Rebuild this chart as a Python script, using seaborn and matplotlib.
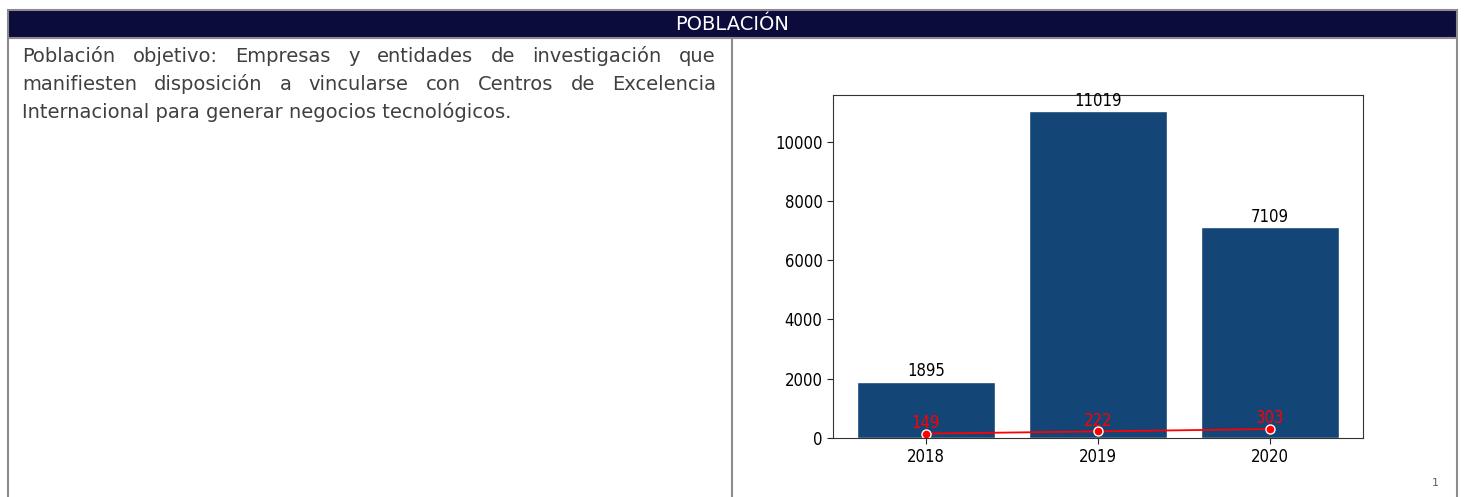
import numpy as np
import matplotlib
matplotlib.use("Agg")
import matplotlib.pyplot as plt
import seaborn as sns

# datos
anios = ["2018", "2019", "2020"]
poblacion = [1895, 11019, 7109]
atendidos = [149, 222, 303]
titulo = "POBLACIÓN"
descripcion = [
    "Población objetivo: Empresas y entidades de investigación que",
    "manifiesten disposición a vincularse con Centros de Excelencia",
    "Internacional para generar negocios tecnológicos.",
]

W, H = 1465, 497
sns.set_style("white")
plt.rcParams["font.family"] = ["DejaVu Sans"]
fig = plt.figure(figsize=(W / 100, H / 100), dpi=100)


def fx(x):
    return x / W


def fy(y):
    return 1 - y / H


borde = "#8c8c8c"
navy = "#0b0b3c"
fuente = ["DejaVu Sans"]

# encabezado de la tabla
fig.patches.append(plt.Rectangle((fx(8), fy(38)), fx(1449), 28 / H, transform=fig.transFigure,
                                 facecolor=navy, edgecolor=borde, lw=1.5))
fig.text(fx(732), fy(30), titulo, color="white", fontsize=14, ha="center", va="baseline", family=fuente)
for x in [8, 732, 1457]:
    fig.add_artist(plt.Line2D([fx(x), fx(x)], [fy(38), 0], transform=fig.transFigure, color=borde, lw=1.5))

# texto justificado
renderer = fig.canvas.get_renderer()
x0, x1 = 22, 716
for i, linea in enumerate(descripcion):
    y = fy(62 + 28 * i)
    palabras = linea.split()
    if i == len(descripcion) - 1:
        fig.text(fx(x0), y, linea, fontsize=14, color="#404040", va="baseline", family=fuente)
        continue
    textos = [fig.text(0, y, p, fontsize=14, color="#404040", va="baseline", family=fuente) for p in palabras]
    anchos = [t.get_window_extent(renderer).width for t in textos]
    hueco = (x1 - x0 - sum(anchos)) / (len(palabras) - 1)
    pos = x0
    for t, a in zip(textos, anchos):
        t.set_x(fx(pos))
        pos += a + hueco

fig.text(fx(1435), fy(483), "1", fontsize=8, color="#606060", ha="center", va="center")

# grafico
ax = fig.add_axes([fx(833), fy(438), 530 / W, 343 / H])
sns.barplot(x=anios, y=poblacion, color="#134576", saturation=1, width=0.8, ax=ax)
sns.lineplot(x=np.arange(len(anios)), y=atendidos, color="red", marker="o", markersize=6.5,
             markeredgecolor="white", markeredgewidth=1, lw=1.3, ax=ax)
ax.bar_label(ax.containers[0], fontsize=12, color="black", padding=1, fontstretch="condensed")
for i, v in enumerate(atendidos):
    ax.text(i, v + 60, str(v), color="red", fontsize=12, ha="center", va="bottom", fontstretch="condensed")
ax.set_xlabel("")
ax.set_ylabel("")
ax.set_yticks([0, 2000, 4000, 6000, 8000, 10000])
ax.tick_params(axis="both", labelsize=12, length=4, left=True, bottom=True)
for lab in ax.get_xticklabels() + ax.get_yticklabels():
    lab.set_fontstretch("condensed")
    lab.set_color("black")
for s in ax.spines.values():
    s.set_color("#333333")
    s.set_linewidth(0.8)

fig.savefig("out.png", dpi=100)
